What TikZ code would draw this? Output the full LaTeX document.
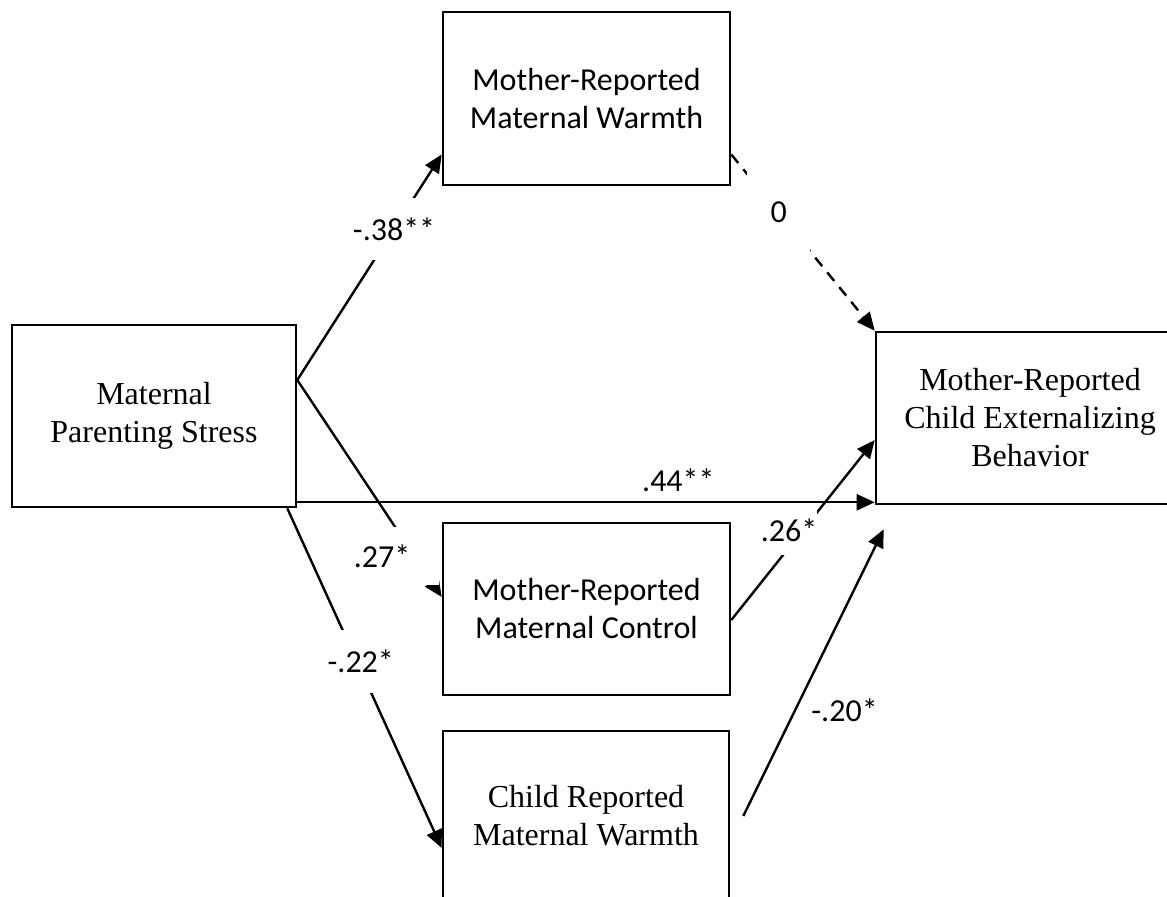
\documentclass[tikz,border=0pt]{standalone}
\usepackage{fontspec}
\setmainfont{Liberation Serif}
\newfontfamily\calibri{Carlito}
\usetikzlibrary{arrows.meta}
\usetikzlibrary{calc}

\begin{document}
\begin{tikzpicture}[x=0.5pt, y=-0.5pt, line width=1.2pt,
    >={Triangle[length=9pt,width=8pt]},
    varbox/.style={draw, line width=1.3pt, rectangle, align=center, inner sep=0pt,
      font=\fontsize{16}{19}\selectfont},
    sansbox/.style={varbox, font=\calibri\fontsize{16}{19}\selectfont},
    coef/.style={fill=white, inner sep=0pt, font=\calibri\fontsize{16}{19}\selectfont}]
  \useasboundingbox (0,0) rectangle (1167,897);
  \clip (0,0) rectangle (1167,897);

  % variables
  \node[varbox, minimum width=142pt, minimum height=91pt] (stress) at (154,416) {Maternal\\Parenting Stress};
  \node[sansbox, minimum width=143.5pt, minimum height=86.5pt] (mwarm) at (586.5,98.5) {Mother-Reported\\Maternal Warmth};
  \node[sansbox, minimum width=143.5pt, minimum height=86pt] (mcontrol) at (586.5,609) {Mother-Reported\\Maternal Control};
  \node[varbox, minimum width=143pt, minimum height=85pt] (cwarm) at (586,816) {Child Reported\\Maternal Warmth};
  \node[varbox, minimum width=154pt, minimum height=86pt] (outcome) at (1030,418) {Mother-Reported\\Child Externalizing\\Behavior};
  \coordinate (ctip) at ($(outcome.south west)+(9,24)$);

  % paths
  \draw[->] ([yshift=18pt]stress.east) -- ([yshift=-28pt]mwarm.west)
    node[coef, pos=.67, minimum height=31pt] {-.38**};
  \draw[->] ([yshift=18pt]stress.east) -- ([yshift=6pt]mcontrol.west)
    node[coef, pos=.81, xshift=-9pt, text width=42.5pt, align=left, minimum height=29pt] {.27*};
  \draw[->] ([xshift=-5pt]stress.south east) -- ([yshift=-16pt]cwarm.west)
    node[coef, pos=.45, xshift=2pt, minimum height=31.5pt] {-.22*};
  \draw[->] ([yshift=3pt]stress.south east) -- ([yshift=1.5pt]outcome.south west)
    node[coef, pos=.66, above=4.5pt] {.44**};
  \draw[->] ([yshift=-5.5pt]mcontrol.east) -- ([yshift=-11pt]outcome.west)
    node[coef, pos=.5, xshift=-7pt, minimum height=25pt] {.26*};
  \draw[->] ([xshift=6.5pt]cwarm.east) -- (ctip)
    node[coef, pos=.37, right=7.5pt] {-.20*};
  \draw[->, dash pattern=on 5.5pt off 4pt] ([yshift=-28pt]mwarm.east) -- (outcome.north west)
    node[coef, pos=.33, minimum width=31.5pt, minimum height=40.5pt] {0};
\end{tikzpicture}
\end{document}
